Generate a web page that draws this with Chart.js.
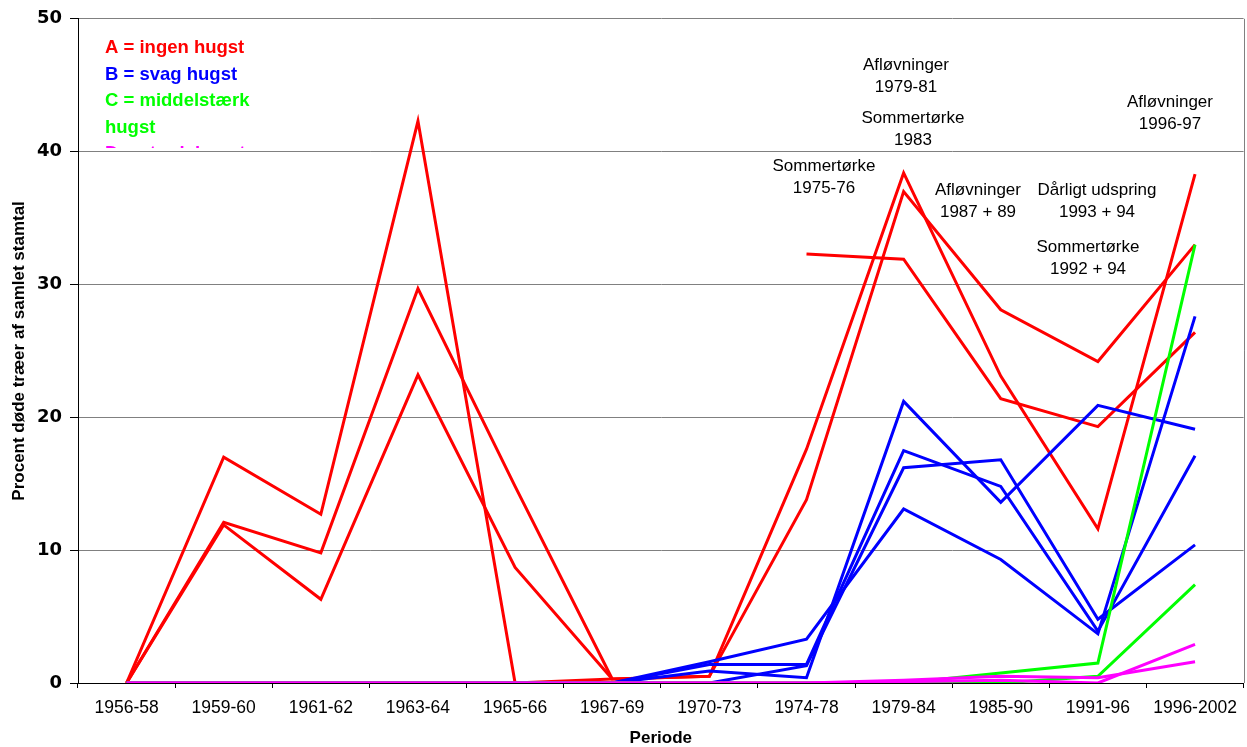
<!DOCTYPE html>
<html>
<head>
<meta charset="utf-8">
<script src="https://cdn.jsdelivr.net/npm/chart.js@4/dist/chart.umd.min.js"></script>
<style>
  html, body { margin: 0; padding: 0; background: #fff; }
  #wrap { width: 1247px; height: 747px; }
</style>
</head>
<body>
<div id="wrap"><canvas id="c" width="1247" height="747"></canvas></div>
<script>
const categories = ['1956-58','1959-60','1961-62','1963-64','1965-66','1967-69','1970-73','1974-78','1979-84','1985-90','1991-96','1996-2002'];

// A = ingen hugst (red)
const seriesA1 = [0, 17.0, 12.7, 42.3, 0, 0.3, 0.5, 17.6, 38.4, 23.1, 11.6, 38.3];
const seriesA2 = [0, 12.1, 9.8, 29.7, 14.8, 0.3, 0.5, 13.8, 37.0, 28.1, 24.2, 33.0];
const seriesA3 = [0, 11.9, 6.3, 23.2, 8.7, 0.3, null, 32.3, 31.9, 21.4, 19.3, 26.4];
// B = svag hugst (blue)
const seriesB1 = [0, 0, 0, 0, 0, 0, 1.6, 3.3, 13.1, 9.3, 3.7, 27.6];
const seriesB2 = [0, 0, 0, 0, 0, 0, 1.4, 1.4, 17.5, 14.8, 3.9, 17.1];
const seriesB3 = [0, 0, 0, 0, 0, 0, 0.9, 0.4, 21.2, 13.6, 20.9, 19.1];
const seriesB4 = [0, 0, 0, 0, 0, 0, 0.0, 1.3, 16.2, 16.8, 4.8, 10.4];
// C = middelstærk hugst (green)
const seriesC1 = [0, 0, 0, 0, 0, 0, 0, 0, 0, 0.75, 1.5, 33.0];
const seriesC2 = [0, 0, 0, 0, 0, 0, 0, 0, 0, 0.0, 0.5, 7.4];
// D (magenta)
const seriesD1 = [0, 0, 0, 0, 0, 0, 0, 0, 0.2, 0.5, 0.4, 1.6];
const seriesD2 = [0, 0, 0, 0, 0, 0, 0, 0, 0.1, 0.2, 0.0, 2.9];

const yTicks = [0, 10, 20, 30, 40, 50];

const legendLines = [
  { text: 'A = ingen hugst', color: '#ff0000' },
  { text: 'B = svag hugst', color: '#0000ff' },
  { text: 'C = middelstærk', color: '#00ff00' },
  { text: 'hugst', color: '#00ff00' },
  { text: 'D = stærk hugst', color: '#ff00ff' }
];

const annotations = [
  { lines: ['Afløvninger', '1979-81'], x: 906, y: 65 },
  { lines: ['Sommertørke', '1983'], x: 913, y: 118 },
  { lines: ['Sommertørke', '1975-76'], x: 824, y: 166 },
  { lines: ['Afløvninger', '1987 + 89'], x: 978, y: 190 },
  { lines: ['Dårligt udspring', '1993 + 94'], x: 1097, y: 190 },
  { lines: ['Sommertørke', '1992 + 94'], x: 1088, y: 247 },
  { lines: ['Afløvninger', '1996-97'], x: 1170, y: 102 }
];

const FONT = "'Liberation Sans', Arial, sans-serif";

function ds(data, color, order) {
  return {
    data: data,
    borderColor: color,
    backgroundColor: color,
    borderWidth: 3,
    pointRadius: 0,
    pointHoverRadius: 0,
    tension: 0,
    fill: false,
    spanGaps: false,
    order: order
  };
}

const overlay = {
  id: 'overlay',
  afterDatasetsDraw(chart) {
    const ctx = chart.ctx;
    const area = chart.chartArea;
    ctx.save();
    ctx.strokeStyle = '#808080';
    ctx.lineWidth = 1;
    ctx.beginPath();
    ctx.moveTo(Math.round(area.right) + 0.5, area.top);
    ctx.lineTo(Math.round(area.right) + 0.5, area.bottom);
    ctx.stroke();
    ctx.restore();

    ctx.save();
    ctx.beginPath();
    ctx.rect(80, 20, 300, 128);
    ctx.clip();
    ctx.font = 'bold 18.5px ' + FONT;
    ctx.textAlign = 'left';
    ctx.textBaseline = 'middle';
    legendLines.forEach((l, i) => {
      ctx.fillStyle = l.color;
      ctx.fillText(l.text, 105, 48 + i * 26.5);
    });
    ctx.restore();

    ctx.save();
    ctx.font = '17px ' + FONT;
    ctx.fillStyle = '#000';
    ctx.textAlign = 'center';
    ctx.textBaseline = 'middle';
    annotations.forEach(a => {
      a.lines.forEach((t, i) => ctx.fillText(t, a.x, a.y + i * 22));
    });
    ctx.restore();
  }
};

const chart = new Chart(document.getElementById('c'), {
  type: 'line',
  data: {
    labels: categories,
    datasets: [
      ds(seriesA1, '#ff0000', 4),
      ds(seriesA2, '#ff0000', 4),
      ds(seriesA3, '#ff0000', 4),
      ds(seriesB1, '#0000ff', 3),
      ds(seriesB2, '#0000ff', 3),
      ds(seriesB3, '#0000ff', 3),
      ds(seriesB4, '#0000ff', 3),
      ds(seriesC1, '#00ff00', 2),
      ds(seriesC2, '#00ff00', 2),
      ds(seriesD1, '#ff00ff', 1),
      ds(seriesD2, '#ff00ff', 1)
    ]
  },
  options: {
    responsive: false,
    animation: false,
    events: [],
    layout: { padding: { left: 0, right: 3, top: 17, bottom: 0 } },
    plugins: {
      legend: { display: false },
      tooltip: { enabled: false },
      title: { display: false }
    },
    scales: {
      x: {
        type: 'category',
        offset: true,
        grid: {
          offset: true,
          drawOnChartArea: false,
          drawTicks: true,
          tickLength: 5,
          tickColor: '#000'
        },
        border: { display: true, color: '#000', width: 1 },
        ticks: {
          color: '#000',
          font: { family: FONT, size: 17.5 },
          padding: 10,
          maxRotation: 0,
          autoSkip: false
        },
        title: {
          display: true,
          text: 'Periode',
          color: '#000',
          font: { family: FONT, size: 17, weight: 'bold', lineHeight: 1.0 },
          padding: { top: 0, bottom: 0 }
        },
        afterFit(scale) { scale.height = 64; }
      },
      y: {
        min: 0,
        max: 50,
        afterBuildTicks(scale) { scale.ticks = yTicks.map(v => ({ value: v })); },
        grid: {
          color: '#808080',
          lineWidth: 1,
          drawTicks: true,
          tickLength: 8,
          tickColor: '#000'
        },
        border: { display: true, color: '#000', width: 1 },
        ticks: {
          color: '#000',
          font: { family: "'DejaVu Sans', sans-serif", size: 18, weight: 'bold' },
          padding: 8
        },
        title: {
          display: true,
          text: 'Procent døde træer af samlet stamtal',
          color: '#000',
          font: { family: FONT, size: 17, weight: 'bold' },
          padding: { top: 9, bottom: 0 }
        },
        afterFit(scale) { scale.width = 78; }
      }
    }
  },
  plugins: [overlay]
});
</script>
</body>
</html>
